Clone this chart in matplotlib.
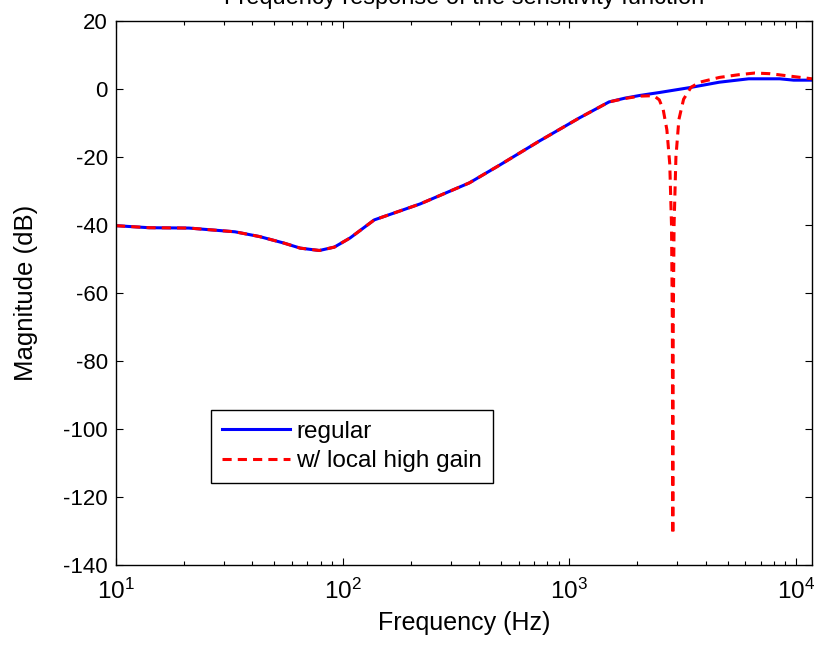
import matplotlib
matplotlib.use("Agg")
import matplotlib.pyplot as plt
from matplotlib.ticker import LogLocator, NullFormatter, FixedLocator

plt.rcParams['font.family'] = ['Liberation Sans', 'DejaVu Sans']

title = "Frequency response of the sensitivity function"
xlabel = "Frequency (Hz)"
ylabel = "Magnitude (dB)"
legend_labels = ["regular", "w/ local high gain"]

# regular
freq_regular = [10, 14, 21, 33.5, 43, 55, 65, 79, 92, 108, 138, 220, 363, 493, 739,
                1110, 1500, 1760, 2050, 2520, 3400, 4600, 6200, 8500, 9800, 11800]
mag_regular = [-40.2, -40.8, -40.9, -42.0, -43.4, -45.3, -46.8, -47.5, -46.5, -43.8, -38.5,
               -33.8, -27.6, -22.4, -15.3, -8.5, -3.8, -2.7, -1.9, -1.0, 0.4, 2.0, 3.0,
               3.0, 2.6, 2.6]

# w/ local high gain
freq_high = [10, 14, 21, 33.5, 43, 55, 65, 79, 92, 108, 138, 220, 363, 493, 739,
             1110, 1500, 1760, 2050, 2270, 2400, 2500, 2600, 2700, 2780, 2830, 2855,
             2868, 2880, 2905, 2960, 3050, 3200, 3450, 3770, 4600, 5600, 6600, 7700,
             9400, 11800]
mag_high = [-40.2, -40.8, -40.9, -42.0, -43.4, -45.3, -46.8, -47.5, -46.5, -43.8, -38.5,
            -33.8, -27.6, -22.4, -15.3, -8.5, -3.8, -2.8, -2.1, -2.0, -2.3, -3.2, -6.0,
            -12.0, -22.0, -40.0, -70.0, -131.0, -70.0, -40.0, -20.0, -9.0, -3.0, 0.5,
            2.0, 3.4, 4.2, 4.7, 4.5, 3.8, 3.0]

xticks = [10, 100, 1000, 10000]
yticks = [-140, -120, -100, -80, -60, -40, -20, 0, 20]

fig = plt.figure(figsize=(8.15, 6.46), dpi=100)
ax = fig.add_axes([116/815, 1-565/646, 696/815, 544/646])

ax.plot(freq_regular, mag_regular, color='#0000ff', lw=2.2, label=legend_labels[0])
ax.plot(freq_high, mag_high, color='#ff0000', lw=2.2, ls=(0, (3, 2)), label=legend_labels[1])

ax.set_xscale('log')
ax.set_xlim(10, 11800)
ax.set_ylim(-140, 20)
ax.xaxis.set_major_locator(FixedLocator(xticks))
ax.xaxis.set_minor_locator(LogLocator(base=10, subs=range(2, 10)))
ax.xaxis.set_minor_formatter(NullFormatter())
ax.set_yticks(yticks)
ax.set_yticklabels([str(v) for v in yticks])

ax.tick_params(which='both', direction='in', top=True, right=True, width=0.8)
ax.tick_params(which='major', length=5)
ax.tick_params(which='minor', length=3)
ax.tick_params(axis='y', labelsize=16, pad=6)
ax.tick_params(axis='x', labelsize=17.5, pad=10)
for s in ax.spines.values():
    s.set_linewidth(1.0)

ax.set_xlabel(xlabel, fontsize=18, labelpad=5)
ax.set_ylabel(ylabel, fontsize=18.5, labelpad=18)

fig.text(464/815, 1-4/646, title, ha='center', va='baseline', fontsize=17)

leg = ax.legend(loc='lower left', bbox_to_anchor=(95/696, 82/544), borderaxespad=0,
                fontsize=17.5, fancybox=False, framealpha=1, edgecolor='black',
                handlelength=2.8, handletextpad=0.25, labelspacing=0.3, borderpad=0.45)
leg.get_frame().set_linewidth(1.0)

fig.savefig("out.png", dpi=100)
